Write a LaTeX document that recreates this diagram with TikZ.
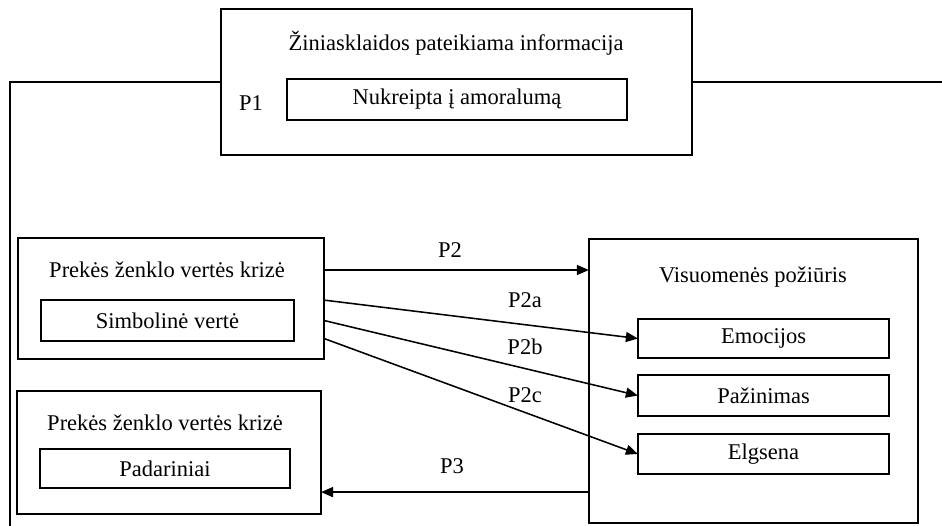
\documentclass[tikz,border=0pt]{standalone}
\usepackage{fontspec}
\setmainfont{Liberation Serif}
\usepackage{tikz}
\usetikzlibrary{arrows.meta,positioning}

\begin{document}
\begin{tikzpicture}[x=0.025cm, y=-0.025cm, line width=1.1pt,
    every node/.style={font=\fontsize{16}{19}\selectfont},
    box/.style={draw, inner sep=0pt, outer sep=0pt},
    arr/.style={-{Triangle[length=0.3cm, width=0.25cm]}}]
    \useasboundingbox (0,0) rectangle (942,526);

    % ziniasklaida
    \node[box, minimum width=11.78cm, minimum height=3.65cm] at (456.5,82) (media) {};
    \node at (456,43) (mediat) {Žiniasklaidos pateikiama informacija};
    \node[box, minimum width=8.5cm, minimum height=1.03cm] at (457,99.5) (amor) {Nukreipta į amoralumą};
    \node at (251,103) (p1) {P1};

    % vertes krize
    \node[box, minimum width=7.65cm, minimum height=3.03cm] at (171,298.5) (krize) {};
    \node at (167,270) (krizet) {Prekės ženklo vertės krizė};
    \node[box, minimum width=6.33cm, minimum height=1.03cm] at (167.5,320.5) (simb) {Simbolinė vertė};

    % padariniai
    \node[box, minimum width=7.6cm, minimum height=3.08cm] at (169,452.5) (pkrize) {};
    \node at (165,423) (pkrizet) {Prekės ženklo vertės krizė};
    \node[box, minimum width=6.25cm, minimum height=0.98cm] at (165,468.5) (pad) {Padariniai};

    % poziuris
    \node[box, minimum width=8.23cm, minimum height=7.1cm] at (753.5,381) (pz) {};
    \node at (753,277) (pzt) {Visuomenės požiūris};
    \node[box, minimum width=6.28cm, minimum height=0.98cm] at (763.5,338.5) (emo) {Emocijos};
    \node[box, minimum width=6.28cm, minimum height=1.03cm] at (763.5,395.5) (paz) {Pažinimas};
    \node[box, minimum width=6.28cm, minimum height=1.0cm] at (763.5,454) (elg) {Elgsena};

    % P1 linijos
    \coordinate (l1) at (10,82);
    \coordinate (l2) at (10,526);
    \coordinate (r1) at (942,82);
    \draw (media.west) -- (l1) -- (l2);
    \draw (media.east) -- (r1);

    % rodykles
    \draw[arr] (krizet -| krize.east) -- (krizet -| pz.west);
    \node at (450,250) (p2) {P2};
    \draw[arr] ([yshift=-0.04cm]krize.east) -- (emo.west);
    \node at (525,300) (p2a) {P2a};
    \draw[arr] (simb -| krize.east) -- (paz.west);
    \node at (525,347) (p2b) {P2b};
    \draw[arr] (emo -| krize.east) -- (elg.west);
    \node at (525,395) (p2c) {P2c};
    \draw[arr] ([yshift=-0.99cm]pz.west |- pkrize.east) -- ([yshift=-0.99cm]pkrize.east);
    \node at (452,466) (p3) {P3};
\end{tikzpicture}
\end{document}
